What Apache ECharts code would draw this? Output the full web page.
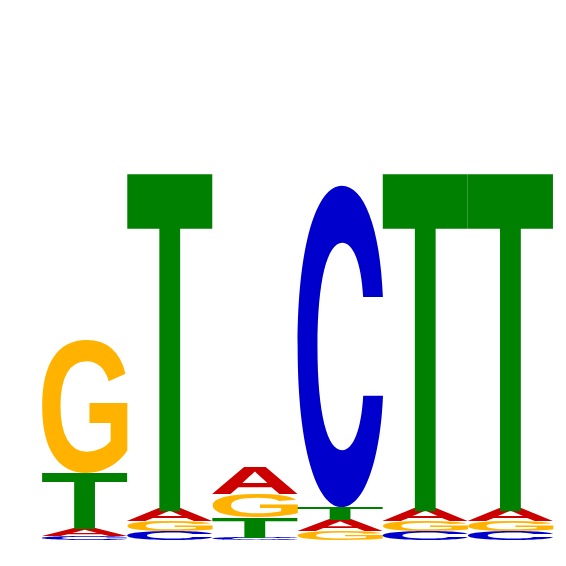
<!DOCTYPE html>
<html>
<head>
<meta charset="utf-8">
<script src="https://cdn.jsdelivr.net/npm/echarts@6/dist/echarts.min.js"></script>
<style>html,body{margin:0;padding:0;background:#fff}#c{width:566px;height:566px}</style>
</head>
<body>
<div id="c"></div>
<script>
// Sequence logo: information content (bits) per letter per position
var positions = ['1', '2', '3', '4', '5', '6'];
var letters = ['A', 'C', 'G', 'T'];
var valA = [0.035, 0.057, 0.114, 0.048, 0.057, 0.057];
var valC = [0.017, 0.038, 0.009, 1.396, 0.038, 0.038];
var valG = [0.578, 0.043, 0.105, 0.039, 0.043, 0.043];
var valT = [0.241, 1.462, 0.088, 0.057, 1.462, 1.462];
var letterColors = { A: '#CC0000', C: '#0000CC', G: '#FFB300', T: '#008000' };
var letterFonts = {
  A: 'bold 200px "Liberation Sans"',
  C: 'bold 200px "Inter"',
  G: 'bold 200px "Liberation Sans"',
  T: 'bold 200px "Liberation Sans"'
};

// measure actual ink bounds of each glyph (relative to center/middle anchor)
var metrics = {};
(function () {
  var S = 600, O = 300;
  var cv = document.createElement('canvas');
  cv.width = S; cv.height = S;
  var ctx = cv.getContext('2d');
  letters.forEach(function (L) {
    ctx.clearRect(0, 0, S, S);
    ctx.font = letterFonts[L];
    ctx.textAlign = 'center';
    ctx.textBaseline = 'middle';
    ctx.fillStyle = '#000';
    ctx.fillText(L, O, O);
    var d = ctx.getImageData(0, 0, S, S).data;
    var minX = S, maxX = -1, minY = S, maxY = -1;
    for (var y = 0; y < S; y++) {
      for (var x = 0; x < S; x++) {
        if (d[(y * S + x) * 4 + 3] > 127) {
          if (x < minX) minX = x; if (x > maxX) maxX = x;
          if (y < minY) minY = y; if (y > maxY) maxY = y;
        }
      }
    }
    metrics[L] = { left: O - minX, right: maxX + 1 - O, ascent: O - minY, descent: maxY + 1 - O };
  });
})();

var valsByLetter = { A: valA, C: valC, G: valG, T: valT };
var data = [];
positions.forEach(function (p, i) {
  var stack = letters.map(function (L) { return { L: L, v: valsByLetter[L][i] }; });
  stack.sort(function (a, b) { return a.v - b.v; });
  var y0 = 0;
  stack.forEach(function (s) {
    data.push([i, y0, y0 + s.v, letters.indexOf(s.L)]);
    y0 += s.v;
  });
});

var chart = echarts.init(document.getElementById('c'), null, { renderer: 'canvas' });
chart.setOption({
  animation: false,
  grid: { left: 42, right: 13, top: 81, bottom: 26 },
  xAxis: { type: 'category', data: positions, show: false },
  yAxis: { type: 'value', min: 0, max: 2, show: false },
  series: [{
    type: 'custom',
    data: data,
    renderItem: function (params, api) {
      var L = letters[api.value(3)];
      var top = api.coord([api.value(0), api.value(2)]);
      var bot = api.coord([api.value(0), api.value(1)]);
      var w = api.size([1, 0])[0];
      var h = bot[1] - top[1];
      if (h <= 0.3) return null;
      var m = metrics[L];
      var inkW = m.left + m.right, inkH = m.ascent + m.descent;
      var sx = w / inkW, sy = h / inkH;
      var icx = (m.right - m.left) / 2, icy = (m.descent - m.ascent) / 2;
      var cx = top[0], cy = (top[1] + bot[1]) / 2;
      return {
        type: 'text',
        x: cx - sx * icx,
        y: cy - sy * icy,
        scaleX: sx,
        scaleY: sy,
        style: {
          text: L, x: 0, y: 0, font: letterFonts[L],
          textAlign: 'center', textVerticalAlign: 'middle',
          align: 'center', verticalAlign: 'middle',
          fill: letterColors[L]
        }
      };
    }
  }]
});
</script>
</body>
</html>
